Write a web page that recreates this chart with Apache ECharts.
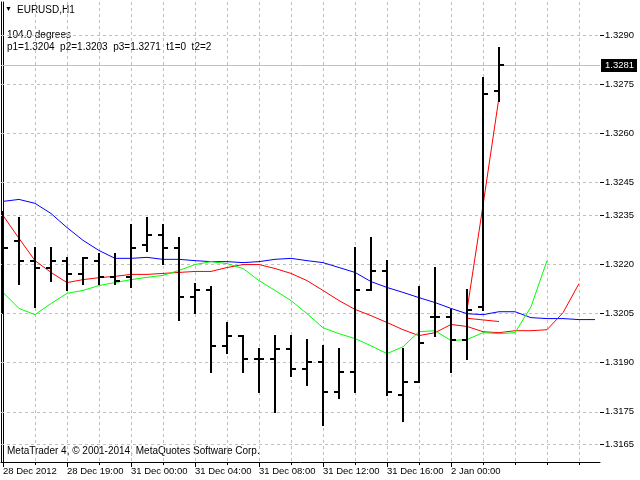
<!DOCTYPE html>
<html>
<head>
<meta charset="utf-8">
<script src="https://cdn.jsdelivr.net/npm/echarts@6/dist/echarts.min.js"></script>
<style>html,body{margin:0;padding:0;background:#fff;}#main{width:640px;height:480px;}</style>
</head>
<body>
<div id="main"></div>
<script>
// ---- data ----
const timeLabels = ["28 Dec 2012","28 Dec 19:00","31 Dec 00:00","31 Dec 04:00","31 Dec 08:00","31 Dec 12:00","31 Dec 16:00","2 Jan 00:00"];
const labelBars = [0,4,8,12,16,20,24,28];
const priceTicks = [1.3165,1.3175,1.3190,1.3205,1.3220,1.3235,1.3245,1.3260,1.3275,1.3290];
const bidPrice = 1.3281;
// bars: open, high, low, close
const opens  = [1.3230,1.3227,1.3221,1.3219,1.3221,1.3217,1.3221,1.3216,1.3216,1.3226,1.3229,1.3225,1.3210,1.3212,1.3195,1.3198,1.3191,1.3191,1.3194,1.3188,1.3190,1.3181,1.3187,1.3212,1.3218,1.3180,1.3184,1.3204,1.3204,1.3197,1.3207,1.3273];
const highs  = [1.3236,1.3234,1.3225,1.3225,1.3222,1.3222,1.3223,1.3223,1.3232,1.3234,1.3232,1.3228,1.3214,1.3213,1.3202,1.3198,1.3194,1.3198,1.3198,1.3197,1.3195,1.3194,1.3225,1.3228,1.3221,1.3194,1.3213,1.3219,1.3206,1.3212,1.3277,1.3286];
const lows   = [1.3205,1.3214,1.3207,1.3215,1.3212,1.3214,1.3214,1.3214,1.3213,1.3224,1.3220,1.3203,1.3205,1.3187,1.3193,1.3187,1.3181,1.3175,1.3186,1.3183,1.3171,1.3179,1.3181,1.3212,1.3180,1.3172,1.3184,1.3198,1.3187,1.3191,1.3206,1.3270];
const closes = [1.3225,1.3221,1.3219,1.3221,1.3217,1.3222,1.3216,1.3215,1.3225,1.3229,1.3225,1.3210,1.3212,1.3195,1.3198,1.3191,1.3191,1.3194,1.3188,1.3190,1.3181,1.3187,1.3212,1.3218,1.3181,1.3184,1.3196,1.3204,1.3197,1.3206,1.3272,1.3281];
// indicator lines
const blueLine = [1.32392,1.32398,1.32386,1.32355,1.32312,1.32273,1.32242,1.32218,1.32218,1.32221,1.32215,1.32215,1.32211,1.32208,1.32208,1.32205,1.32208,1.32215,1.32218,1.32211,1.32205,1.32190,1.32175,1.32147,1.32129,1.32114,1.32098,1.32083,1.32065,1.32049,1.32046,1.32055,1.32055,1.32037,1.32034,1.32034,1.32031,1.32031];
const redLine = [1.32349,1.32279,1.32211,1.32175,1.32144,1.32153,1.32159,1.32163,1.32169,1.32169,1.32172,1.32175,1.32178,1.32178,1.32190,1.32199,1.32199,1.32187,1.32172,1.32150,1.32120,1.32089,1.32062,1.32043,1.32022,1.32000,1.31982,1.31991,1.32016,1.32010,1.31994,1.31991,1.31997,1.31997,1.32000,1.32052,1.32141];
const greenLine = [1.32114,1.32065,1.32046,1.32080,1.32111,1.32120,1.32135,1.32144,1.32153,1.32160,1.32166,1.32181,1.32199,1.32208,1.32202,1.32187,1.32150,1.32120,1.32089,1.32049,1.32006,1.31988,1.31973,1.31951,1.31927,1.31948,1.31994,1.31997,1.31967,1.31970,1.31991,1.31988,1.31991,1.32070,1.32211];
const steepStart = 29;
const steepLine = [1.3206,1.3238,1.3271];
const flatStart = 29;
const flatLine = [1.32035,1.32030,1.32025];
const gridBars = [2,4,6,8,10,12,14,16,18,20,22,24,26,28,30,32,34,36];
const tickBars = [0,2,4,6,8,10,12,14,16,18,20,22,24,26,28,30,32,34,36];
const infoLines = ["104.0 degrees","p1=1.3204  p2=1.3203  p3=1.3271  t1=0  t2=2"];
const symbolTitle = "EURUSD,H1";
const copyright = "MetaTrader 4, © 2001-2014, MetaQuotes Software Corp.";

// ---- build ----
const ohlc = opens.map((o,i)=>[i,o,highs[i],lows[i],closes[i]]);
const toXY = (arr,start)=>arr.map((v,i)=>[i+(start||0),v]);
const FONT = "'Liberation Sans', Arial, sans-serif";
const gridColor = '#c0c0c0';
const YMIN = 1.31596, YMAX = 1.33001;

const chart = echarts.init(document.getElementById('main'), null, {renderer:'canvas'});
chart.setOption({
  animation:false,
  backgroundColor:'#ffffff',
  grid:{left:1,right:40,top:2,bottom:18,containLabel:false},
  xAxis:[{
    type:'value', min:-0.125, max:37.3125,
    axisLine:{show:true,lineStyle:{color:'#000',width:1}},
    axisTick:{show:false},
    axisLabel:{show:true,customValues:labelBars,
      formatter:v=>{const k=labelBars.indexOf(Math.round(v));return k>=0?timeLabels[k]:'';},
      color:'#000',fontFamily:FONT,fontSize:9.5,align:'left',margin:4},
    splitLine:{show:false}
  }],
  yAxis:[{
    type:'value', position:'right', min:YMIN, max:YMAX,
    axisLine:{show:true,lineStyle:{color:'#000',width:1}},
    axisTick:{show:false},
    axisLabel:{show:true,customValues:priceTicks,formatter:v=>v.toFixed(4),
      color:'#000',fontFamily:FONT,fontSize:9.5,margin:5},
    splitLine:{show:false}
  },{
    type:'value', position:'left', min:YMIN, max:YMAX,
    axisLine:{show:true,lineStyle:{color:'#000',width:1}},
    axisTick:{show:false},axisLabel:{show:false},splitLine:{show:false}
  }],
  graphic:[
    {type:'text',left:5,top:6,style:{text:'▼',font:'7px '+FONT,fill:'#000'}},
    {type:'text',left:17,top:5,style:{text:symbolTitle,font:'10px '+FONT,fill:'#000'}},
    {type:'text',left:7,top:30,style:{text:infoLines[0],font:'10px '+FONT,fill:'#000'}},
    {type:'text',left:7,top:42,style:{text:infoLines[1],font:'10px '+FONT,fill:'#000'}},
    {type:'text',left:7,top:446,style:{text:copyright,font:'10px '+FONT,fill:'#000'}}
  ],
  series:[
    // horizontal dashed grid
    {type:'custom',z:1,silent:true,clip:false,data:priceTicks.map(v=>[0,v]),encode:{x:0,y:1},
      renderItem:function(params,api){
        const cs=params.coordSys; const y=Math.round(api.coord([0,api.value(1)])[1])+0.5;
        return {type:'group',children:[
          {type:'line',shape:{x1:cs.x,y1:y,x2:cs.x+cs.width,y2:y},style:{stroke:gridColor,lineWidth:1,lineDash:[3,3]}},
          {type:'line',shape:{x1:cs.x+cs.width,y1:y,x2:cs.x+cs.width+4,y2:y},style:{stroke:'#000',lineWidth:1}}
        ]};
      }},
    // vertical dashed grid
    {type:'custom',z:1,silent:true,clip:false,data:gridBars.map(b=>[b,YMIN]),encode:{x:0,y:1},
      renderItem:function(params,api){
        const cs=params.coordSys; const x=Math.round(api.coord([api.value(0),YMIN])[0])+0.5;
        return {type:'line',shape:{x1:x,y1:cs.y,x2:x,y2:cs.y+cs.height},style:{stroke:gridColor,lineWidth:1,lineDash:[3,3]}};
      }},
    // x-axis ticks
    {type:'custom',z:1,silent:true,clip:false,data:tickBars.map(b=>[b,YMIN]),encode:{x:0,y:1},
      renderItem:function(params,api){
        const cs=params.coordSys; const x=Math.round(api.coord([api.value(0),YMIN])[0])+0.5;
        const major=labelBars.indexOf(api.value(0))>=0;
        const y0=cs.y+cs.height;
        return {type:'line',shape:{x1:x,y1:y0,x2:x,y2:y0+(major?5:3)},style:{stroke:'#000',lineWidth:1}};
      }},
    // bid line + label
    {type:'custom',z:2,silent:true,clip:false,data:[[0,bidPrice]],encode:{x:0,y:1},
      renderItem:function(params,api){
        const cs=params.coordSys; const y=Math.round(api.coord([0,api.value(1)])[1])+0.5;
        const rx=cs.x+cs.width+1;
        return {type:'group',children:[
          {type:'line',shape:{x1:cs.x,y1:y,x2:cs.x+cs.width,y2:y},style:{stroke:gridColor,lineWidth:1}},
          {type:'rect',shape:{x:rx,y:y-6.5,width:36,height:13},style:{fill:'#000'}},
          {type:'text',x:rx+4,y:y,style:{text:api.value(1).toFixed(4),fill:'#fff',font:'9.5px '+FONT,verticalAlign:'middle',align:'left'}}
        ]};
      }},
    {type:'line',z:3,data:toXY(blueLine),showSymbol:false,lineStyle:{color:'#0000ff',width:1},itemStyle:{color:'#0000ff'}},
    {type:'line',z:3,data:toXY(redLine),showSymbol:false,lineStyle:{color:'#ff0000',width:1},itemStyle:{color:'#ff0000'}},
    {type:'line',z:3,data:toXY(greenLine),showSymbol:false,lineStyle:{color:'#00ff00',width:1},itemStyle:{color:'#00ff00'}},
    {type:'line',z:3,data:toXY(steepLine,steepStart),showSymbol:false,lineStyle:{color:'#ff0000',width:1},itemStyle:{color:'#ff0000'}},
    {type:'line',z:3,data:toXY(flatLine,flatStart),showSymbol:false,lineStyle:{color:'#ff0000',width:1},itemStyle:{color:'#ff0000'}},
    {type:'custom',z:5,clip:true,data:ohlc,encode:{x:0,y:[1,2,3,4]},
      renderItem:function(params,api){
        const x=api.value(0);
        const ph=api.coord([x,api.value(2)]), pl=api.coord([x,api.value(3)]);
        const po=api.coord([x,api.value(1)]), pc=api.coord([x,api.value(4)]);
        const st={stroke:'#000',lineWidth:2};
        const cx=Math.round(ph[0]);
        return {type:'group',children:[
          {type:'line',shape:{x1:cx,y1:Math.round(ph[1])-1,x2:cx,y2:Math.round(pl[1])+1},style:st},
          {type:'line',shape:{x1:cx-5,y1:Math.round(po[1]),x2:cx,y2:Math.round(po[1])},style:st},
          {type:'line',shape:{x1:cx,y1:Math.round(pc[1]),x2:cx+5,y2:Math.round(pc[1])},style:st}
        ]};
      }}
  ]
});
</script>
</body>
</html>
